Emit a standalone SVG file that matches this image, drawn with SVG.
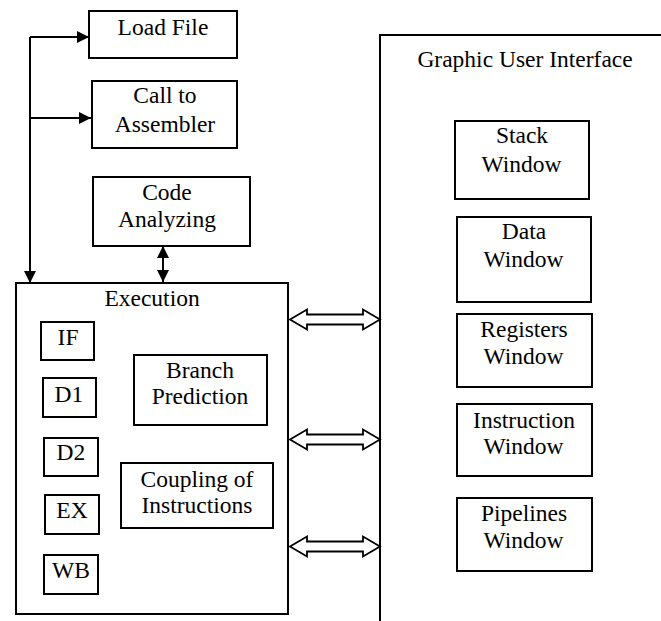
<svg xmlns="http://www.w3.org/2000/svg" width="661" height="621" viewBox="0 0 661 621">
<defs>
<marker id="ah" viewBox="0 0 12 12" refX="12" refY="6" markerWidth="12" markerHeight="12" markerUnits="userSpaceOnUse" orient="auto-start-reverse">
<path d="M0,0 L12,6 L0,12 Z" fill="#000"/>
</marker>
</defs>
<rect width="661" height="621" fill="#fff"/>

<g id="gui">
<path d="M380,621 L380,35 L661,35" fill="none" stroke="#000" stroke-width="2"/>
<text x="417.4" y="67" font-family="Liberation Serif" font-size="23.5">Graphic User Interface</text>
</g>

<g id="load-file">
<rect x="89" y="11" width="148" height="47" fill="#fff" stroke="#000" stroke-width="2"/>
<text x="117.6" y="35" font-family="Liberation Serif" font-size="23.5">Load File</text>
</g>
<g id="call-assembler">
<rect x="92" y="81" width="145" height="67" fill="#fff" stroke="#000" stroke-width="2"/>
<text x="133.3" y="103" font-family="Liberation Serif" font-size="23.5">Call to</text>
<text x="114.7" y="132" font-family="Liberation Serif" font-size="23.5">Assembler</text>
</g>
<g id="code-analyzing">
<rect x="93" y="177" width="157" height="69" fill="#fff" stroke="#000" stroke-width="2"/>
<text x="142.2" y="200" font-family="Liberation Serif" font-size="23.5">Code</text>
<text x="118" y="227" font-family="Liberation Serif" font-size="23.5">Analyzing</text>
</g>

<g id="execution">
<rect x="16" y="283" width="272" height="331" fill="#fff" stroke="#000" stroke-width="2"/>
<text x="104.4" y="306" font-family="Liberation Serif" font-size="23.5">Execution</text>
</g>
<g id="if">
<rect x="41" y="322" width="53" height="38" fill="#fff" stroke="#000" stroke-width="2"/>
<text x="57.6" y="345" font-family="Liberation Serif" font-size="23.5">IF</text>
</g>
<g id="d1">
<rect x="43" y="378" width="53" height="39" fill="#fff" stroke="#000" stroke-width="2"/>
<text x="54.6" y="402" font-family="Liberation Serif" font-size="23.5">D1</text>
</g>
<g id="d2">
<rect x="44" y="438" width="54" height="38" fill="#fff" stroke="#000" stroke-width="2"/>
<text x="56.6" y="460" font-family="Liberation Serif" font-size="23.5">D2</text>
</g>
<g id="ex">
<rect x="45" y="495" width="54" height="39" fill="#fff" stroke="#000" stroke-width="2"/>
<text x="56.3" y="518" font-family="Liberation Serif" font-size="23.5">EX</text>
</g>
<g id="wb">
<rect x="44" y="555" width="54" height="39" fill="#fff" stroke="#000" stroke-width="2"/>
<text x="52.1" y="578" font-family="Liberation Serif" font-size="23.5">WB</text>
</g>
<g id="branch-prediction">
<rect x="134" y="355" width="133" height="70" fill="#fff" stroke="#000" stroke-width="2"/>
<text x="166.1" y="378" font-family="Liberation Serif" font-size="23.5">Branch</text>
<text x="151.7" y="404" font-family="Liberation Serif" font-size="23.5">Prediction</text>
</g>
<g id="coupling">
<rect x="121" y="463" width="152" height="65" fill="#fff" stroke="#000" stroke-width="2"/>
<text x="140.5" y="487" font-family="Liberation Serif" font-size="23.5">Coupling of</text>
<text x="141.5" y="513" font-family="Liberation Serif" font-size="23.5">Instructions</text>
</g>

<g id="stack-window">
<rect x="455" y="121" width="134" height="78" fill="#fff" stroke="#000" stroke-width="2"/>
<text x="495.9" y="143" font-family="Liberation Serif" font-size="23.5">Stack</text>
<text x="481.5" y="172" font-family="Liberation Serif" font-size="23.5">Window</text>
</g>
<g id="data-window">
<rect x="457" y="217" width="134" height="85" fill="#fff" stroke="#000" stroke-width="2"/>
<text x="501.8" y="239" font-family="Liberation Serif" font-size="23.5">Data</text>
<text x="483.5" y="267" font-family="Liberation Serif" font-size="23.5">Window</text>
</g>
<g id="registers-window">
<rect x="457" y="314" width="135" height="73" fill="#fff" stroke="#000" stroke-width="2"/>
<text x="480.3" y="337" font-family="Liberation Serif" font-size="23.5">Registers</text>
<text x="483.5" y="364" font-family="Liberation Serif" font-size="23.5">Window</text>
</g>
<g id="instruction-window">
<rect x="457" y="404" width="135" height="72" fill="#fff" stroke="#000" stroke-width="2"/>
<text x="473.1" y="428" font-family="Liberation Serif" font-size="23.5">Instruction</text>
<text x="483.5" y="454" font-family="Liberation Serif" font-size="23.5">Window</text>
</g>
<g id="pipelines-window">
<rect x="457" y="498" width="135" height="73" fill="#fff" stroke="#000" stroke-width="2"/>
<text x="480.9" y="521" font-family="Liberation Serif" font-size="23.5">Pipelines</text>
<text x="483.5" y="548" font-family="Liberation Serif" font-size="23.5">Window</text>
</g>

<g id="connectors" fill="none" stroke="#000" stroke-width="2">
<path d="M30,37 L89,37" marker-end="url(#ah)"/>
<path d="M30,37 L30,283" marker-end="url(#ah)"/>
<path d="M30,118 L91,118" marker-end="url(#ah)"/>
<path d="M163,246 L163,282" marker-start="url(#ah)" marker-end="url(#ah)"/>
<path fill="#fff" stroke-width="1.8" d="M290,319.5 L307,309.5 L307,314.5 L363,314.5 L363,309.5 L380,319.5 L363,329.5 L363,324.5 L307,324.5 L307,329.5 Z"/>
<path fill="#fff" stroke-width="1.8" d="M290,439.5 L307,429.5 L307,434.5 L363,434.5 L363,429.5 L380,439.5 L363,449.5 L363,444.5 L307,444.5 L307,449.5 Z"/>
<path fill="#fff" stroke-width="1.8" d="M290,546.5 L307,536.5 L307,541.5 L363,541.5 L363,536.5 L380,546.5 L363,556.5 L363,551.5 L307,551.5 L307,556.5 Z"/>
</g>
</svg>
